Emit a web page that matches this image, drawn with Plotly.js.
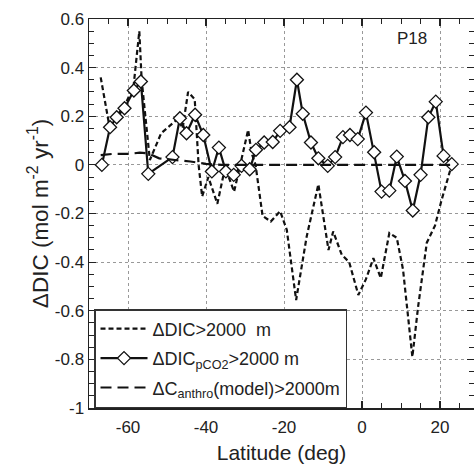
<!DOCTYPE html>
<html>
<head>
<meta charset="utf-8">
<script src="https://cdn.plot.ly/plotly-3.0.1.min.js"></script>
<style>html,body{margin:0;padding:0;background:#fff;overflow:hidden}</style>
</head>
<body>
<div id="chart" style="width:474px;height:468px"></div>
<script>
// ΔDIC > 2000 m (short dashes)
const latDIC = [-67.0,-65.0,-63.0,-61.0,-58.6,-57.1,-56.5,-54.4,-51.5,-48.9,-47.2,-46.0,-44.6,-42.9,-41.9,-41.0,-39.4,-37.1,-35.1,-32.8,-29.2,-28.3,-27.3,-25.5,-23.4,-21.0,-19.3,-16.9,-14.2,-11.2,-8.6,-7.4,-5.2,-3.3,-0.95,1.0,2.9,4.8,7.0,8.9,10.5,12.9,14.4,16.6,18.7,20.4,23.0];
const valDIC = [0.36,0.18,0.20,0.24,0.32,0.55,0.35,0.02,0.13,0.165,0.19,0.15,0.30,0.27,0.0,-0.13,-0.05,-0.16,-0.01,-0.11,0.144,0.048,0.0,-0.21,-0.233,-0.19,-0.267,-0.556,-0.295,-0.08,-0.35,-0.274,-0.37,-0.40,-0.535,-0.47,-0.384,-0.466,-0.28,-0.30,-0.43,-0.79,-0.58,-0.32,-0.25,-0.144,0.0];

// ΔDIC_pCO2 > 2000 m (solid with diamonds)
const latPCO2 = [-66.7,-64.6,-62.9,-60.9,-58.5,-56.7,-54.8,-48.6,-46.7,-45.0,-42.8,-40.7,-38.5,-36.7,-34.9,-32.9,-30.9,-28.8,-27.2,-25.1,-22.9,-21.0,-18.6,-16.7,-15.2,-13.1,-11.2,-8.8,-6.9,-4.9,-3.1,-1.1,1.0,3.1,5.0,7.0,8.9,11.0,13.0,15.0,17.0,18.9,20.9,23.0];
const valPCO2 = [0.00,0.155,0.196,0.233,0.306,0.343,-0.037,0.032,0.192,0.130,0.206,0.123,-0.027,0.071,-0.027,-0.041,-0.004,-0.018,0.062,0.092,0.094,0.140,0.155,0.35,0.21,0.092,0.027,-0.004,0.032,0.114,0.123,0.106,0.215,0.052,-0.11,-0.106,0.034,-0.066,-0.188,-0.041,0.196,0.26,0.037,0.003];

// ΔC_anthro(model) > 2000 m (long dashes)
const latAnth = [-67,-64,-60,-57,-55,-52,-48,-44,-40,-36,-30,-20,-10,0,10,20,23];
const valAnth = [0.04,0.045,0.045,0.05,0.048,0.027,0.02,0.014,0.004,0.0,0.0,0.0,0.0,0.0,0.0,0.002,0.0];

const xTickVals = [-60,-40,-20,0,20];
const xTickText = ['-60','-40','-20','0','20'];
const yTickVals = [-1,-0.8,-0.6,-0.4,-0.2,0,0.2,0.4,0.6];
const yTickText = ['-1','-0.8','-0.6','-0.4','-0.2','0','0.2','0.4','0.6'];

const FONT = 'Liberation Sans, Arial, sans-serif';
const INK = '#222';

const traces = [
  {x: latDIC, y: valDIC, mode: 'lines', name: 'ΔDIC&gt;2000  m', legendgroup: 'a',
   line: {color: '#111', width: 2.2, dash: '5px,3px'}},
  {x: latPCO2, y: valPCO2, mode: 'lines+markers', name: 'ΔDIC<sub>pCO2</sub>&gt;2000 m', legendgroup: 'b',
   line: {color: '#111', width: 2.2},
   marker: {symbol: 'diamond', size: 10, color: '#fff', line: {color: '#111', width: 1.3}}},
  {x: latAnth, y: valAnth, mode: 'lines', name: 'ΔC<sub>anthro</sub>(model)&gt;2000m', legendgroup: 'c',
   line: {color: '#111', width: 2.2, dash: '11px,6px'}}
];

const axisCommon = {
  showline: true, linecolor: INK, linewidth: 1.5, mirror: 'ticks',
  ticks: 'inside', ticklen: 7, tickwidth: 1.2, tickcolor: INK,
  showgrid: true, gridcolor: '#999', griddash: 'dot', gridwidth: 1,
  zeroline: false, tickfont: {family: FONT, size: 17, color: INK}
};

const layout = {
  width: 474, height: 468,
  margin: {l: 89, r: 0, t: 19, b: 60},
  paper_bgcolor: '#fff', plot_bgcolor: '#fff',
  font: {family: FONT, color: INK},
  showlegend: true,
  xaxis: Object.assign({}, axisCommon, {
    range: [-70, 28.7], tickmode: 'array', tickvals: xTickVals, ticktext: xTickText,
    ticklabelstandoff: 3,
    minor: {tickmode: 'linear', tick0: 0, dtick: 5, ticks: 'inside', ticklen: 5, tickwidth: 1, tickcolor: INK, showgrid: false},
    title: {text: 'Latitude (deg)', font: {family: FONT, size: 21, color: INK}, standoff: 9}
  }),
  yaxis: Object.assign({}, axisCommon, {
    range: [-1, 0.6], tickmode: 'array', tickvals: yTickVals, ticktext: yTickText,
    minor: {tickmode: 'linear', tick0: 0, dtick: 0.05, ticks: 'inside', ticklen: 5, tickwidth: 1, tickcolor: INK, showgrid: false},
    title: {text: 'ΔDIC (mol m<sup>-2</sup> yr<sup>-1</sup>)', font: {family: FONT, size: 22.5, color: INK}, standoff: 0}
  }),
  legend: {
    x: 0.013, y: 0, xanchor: 'left', yanchor: 'bottom',
    bgcolor: '#fff', bordercolor: '#333', borderwidth: 1.5,
    itemwidth: 47, traceorder: 'grouped', tracegroupgap: 3,
    font: {family: FONT, size: 18, color: INK}
  },
  annotations: [{
    xref: 'paper', yref: 'paper', x: 0.839, y: 0.951, xanchor: 'center', yanchor: 'middle',
    text: 'P18', showarrow: false, font: {family: FONT, size: 17, color: INK}
  }]
};

Plotly.newPlot('chart', traces, layout, {displayModeBar: false, staticPlot: true});
</script>
</body>
</html>
